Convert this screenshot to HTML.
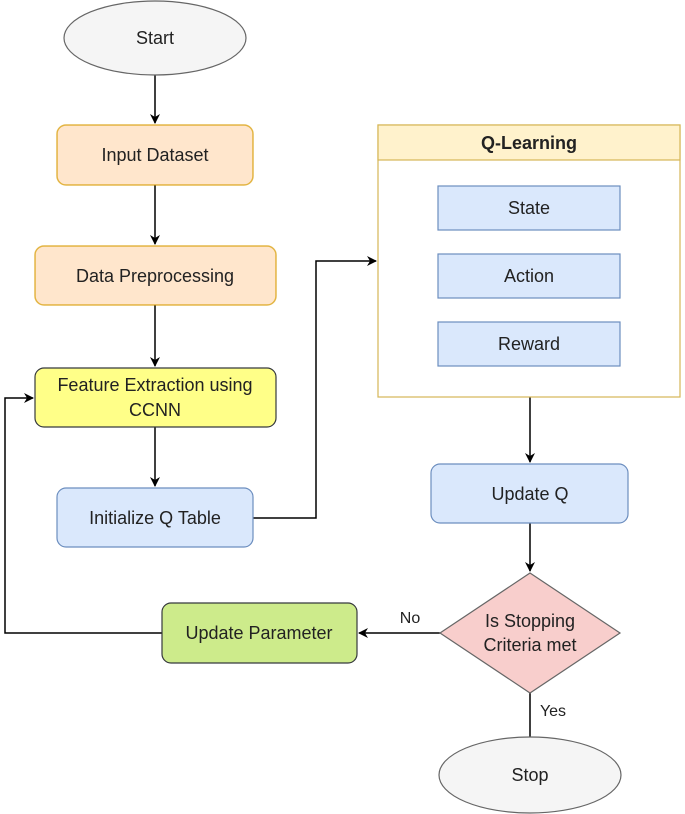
<!DOCTYPE html>
<html><head><style>body{margin:0;background:#fff}svg{display:block}text{font-family:"Liberation Sans",sans-serif;font-size:18px;fill:#222}</style></head><body>
<svg width="685" height="814" viewBox="0 0 685 814">
<defs><marker id="a" markerWidth="10" markerHeight="10" refX="9" refY="5" orient="auto" markerUnits="userSpaceOnUse"><path d="M0,0 L10,5 L0,10 L3,5 Z" fill="#000"/></marker></defs>
<g stroke="#000" stroke-width="1.5" fill="none" marker-end="url(#a)">
<path d="M155,75 V123"/><path d="M155,185 V244"/><path d="M155,305 V366"/><path d="M155,427 V486"/>
<path d="M253,518 H316 V261 H376"/>
<path d="M530,397 V462"/><path d="M530,523 V571"/><path d="M530,693 V753"/>
<path d="M440,633 H359"/><path d="M162,633 H5 V398 H33"/>
</g>
<ellipse cx="155" cy="38" rx="91" ry="37" fill="#f5f5f5" stroke="#666" stroke-width="1.2"/>
<text x="155" y="44" text-anchor="middle" fill="#333">Start</text>
<rect x="57" y="125" width="196" height="60" rx="9" fill="#ffe6cc" stroke="#d79b00" stroke-opacity=".7" stroke-width="1.5"/>
<text x="155" y="161" text-anchor="middle">Input Dataset</text>
<rect x="35" y="246" width="241" height="59" rx="9" fill="#ffe6cc" stroke="#d79b00" stroke-opacity=".7" stroke-width="1.5"/>
<text x="155" y="282" text-anchor="middle">Data Preprocessing</text>
<rect x="35" y="368" width="241" height="59" rx="9" fill="#ffff88" stroke="#36393d" stroke-width="1.2"/>
<text x="155" y="391" text-anchor="middle">Feature Extraction using</text>
<text x="155" y="416" text-anchor="middle">CCNN</text>
<rect x="57" y="488" width="196" height="59" rx="9" fill="#dae8fc" stroke="#6c8ebf" stroke-width="1.2"/>
<text x="155" y="524" text-anchor="middle">Initialize Q Table</text>
<rect x="378" y="125" width="302" height="272" fill="#fff" stroke="#d6b656" stroke-width="1.2"/>
<rect x="378" y="125" width="302" height="35" fill="#fff2cc" stroke="#d6b656" stroke-width="1.2"/>
<text x="529" y="149" text-anchor="middle" font-weight="bold" style="font-weight:bold">Q-Learning</text>
<rect x="438" y="186" width="182" height="44" fill="#dae8fc" stroke="#6c8ebf" stroke-width="1.2"/>
<text x="529" y="214" text-anchor="middle">State</text>
<rect x="438" y="254" width="182" height="44" fill="#dae8fc" stroke="#6c8ebf" stroke-width="1.2"/>
<text x="529" y="282" text-anchor="middle">Action</text>
<rect x="438" y="322" width="182" height="44" fill="#dae8fc" stroke="#6c8ebf" stroke-width="1.2"/>
<text x="529" y="350" text-anchor="middle">Reward</text>
<rect x="431" y="464" width="197" height="59" rx="9" fill="#dae8fc" stroke="#6c8ebf" stroke-width="1.2"/>
<text x="530" y="500" text-anchor="middle">Update Q</text>
<path d="M530,573 L620,633 L530,693 L440,633 Z" fill="#f8cecc" stroke="#666" stroke-width="1.2"/>
<text x="530" y="627" text-anchor="middle">Is Stopping</text>
<text x="530" y="651" text-anchor="middle">Criteria met</text>
<rect x="162" y="603" width="195" height="60" rx="9" fill="#cdeb8b" stroke="#36393d" stroke-width="1.2"/>
<text x="259" y="639" text-anchor="middle">Update Parameter</text>
<text x="410" y="623" text-anchor="middle" style="font-size:16px">No</text>
<text x="553" y="716" text-anchor="middle" style="font-size:16px">Yes</text>
<ellipse cx="530" cy="775" rx="91" ry="38" fill="#f5f5f5" stroke="#666" stroke-width="1.2"/>
<text x="530" y="781" text-anchor="middle" fill="#333">Stop</text>
</svg>
</body></html>
